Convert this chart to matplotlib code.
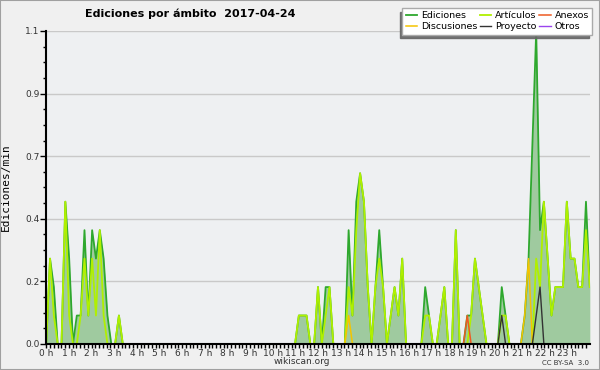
import matplotlib
matplotlib.use("Agg")
import matplotlib.pyplot as plt
import numpy as np
from matplotlib.ticker import FormatStrFormatter
from matplotlib.patches import Rectangle

# edits per 10 minutes, 2017-04-24, one row = 12 slots (2 hours)
ediciones = [
    0, 3, 2, 0, 0, 5, 3, 0, 1, 1, 4, 1,
    4, 3, 4, 3, 1, 0, 0, 1, 0, 0, 0, 0,
    0, 0, 0, 0, 0, 0, 0, 0, 0, 0, 0, 0,
    0, 0, 0, 0, 0, 0, 0, 0, 0, 0, 0, 0,
    0, 0, 0, 0, 0, 0, 0, 0, 0, 0, 0, 0,
    0, 0, 0, 0, 0, 0, 1, 1, 1, 0, 0, 2,
    0, 2, 2, 0, 0, 0, 0, 4, 1, 5, 6, 5,
    2, 0, 2, 4, 2, 0, 1, 2, 1, 3, 0, 0,
    0, 0, 0, 2, 1, 0, 0, 1, 2, 0, 0, 4,
    0, 0, 1, 1, 3, 2, 1, 0, 0, 0, 0, 2,
    1, 0, 0, 0, 0, 1, 3, 7, 11, 4, 5, 3,
    1, 2, 2, 2, 5, 3, 3, 2, 2, 5, 2,
]
articulos = [
    0, 3, 1, 0, 0, 5, 1, 0, 0, 1, 3, 1,
    3, 1, 4, 1, 0, 0, 0, 1, 0, 0, 0, 0,
    0, 0, 0, 0, 0, 0, 0, 0, 0, 0, 0, 0,
    0, 0, 0, 0, 0, 0, 0, 0, 0, 0, 0, 0,
    0, 0, 0, 0, 0, 0, 0, 0, 0, 0, 0, 0,
    0, 0, 0, 0, 0, 0, 1, 1, 1, 0, 0, 2,
    0, 1, 2, 0, 0, 0, 0, 2, 1, 4, 6, 5,
    2, 0, 2, 3, 2, 0, 1, 2, 1, 3, 0, 0,
    0, 0, 0, 1, 1, 0, 0, 1, 2, 0, 0, 4,
    0, 0, 0, 1, 3, 2, 1, 0, 0, 0, 0, 1,
    1, 0, 0, 0, 0, 0, 0, 0, 3, 2, 5, 3,
    1, 2, 2, 2, 5, 3, 3, 2, 2, 4, 2,
]
anexos = [
    0, 0, 0, 0, 0, 0, 0, 0, 0, 0, 0, 0,
    0, 0, 0, 0, 0, 0, 0, 0, 0, 0, 0, 0,
    0, 0, 0, 0, 0, 0, 0, 0, 0, 0, 0, 0,
    0, 0, 0, 0, 0, 0, 0, 0, 0, 0, 0, 0,
    0, 0, 0, 0, 0, 0, 0, 0, 0, 0, 0, 0,
    0, 0, 0, 0, 0, 0, 0, 0, 0, 0, 0, 0,
    0, 0, 0, 0, 0, 0, 0, 0, 0, 0, 0, 0,
    0, 0, 0, 0, 0, 0, 0, 0, 0, 0, 0, 0,
    0, 0, 0, 0, 0, 0, 0, 0, 0, 0, 0, 0,
    0, 0, 1, 0, 0, 0, 0, 0, 0, 0, 0, 0,
    0, 0, 0, 0, 0, 0, 0, 0, 0, 0, 0, 0,
    0, 0, 0, 0, 0, 0, 0, 0, 0, 0, 0,
]
discusiones = [
    0, 0, 0, 0, 0, 0, 0, 0, 0, 0, 0, 0,
    0, 0, 0, 0, 0, 0, 0, 0, 0, 0, 0, 0,
    0, 0, 0, 0, 0, 0, 0, 0, 0, 0, 0, 0,
    0, 0, 0, 0, 0, 0, 0, 0, 0, 0, 0, 0,
    0, 0, 0, 0, 0, 0, 0, 0, 0, 0, 0, 0,
    0, 0, 0, 0, 0, 0, 0, 0, 0, 0, 0, 0,
    0, 0, 0, 0, 0, 0, 0, 1, 0, 0, 0, 0,
    0, 0, 0, 0, 0, 0, 0, 0, 0, 0, 0, 0,
    0, 0, 0, 0, 0, 0, 0, 0, 0, 0, 0, 0,
    0, 0, 0, 0, 0, 0, 0, 0, 0, 0, 0, 0,
    0, 0, 0, 0, 0, 1, 3, 0, 0, 0, 0, 0,
    0, 0, 0, 0, 0, 0, 0, 0, 0, 0, 0,
]
proyecto = [
    0, 0, 0, 0, 0, 0, 0, 0, 0, 0, 0, 0,
    0, 0, 0, 0, 0, 0, 0, 0, 0, 0, 0, 0,
    0, 0, 0, 0, 0, 0, 0, 0, 0, 0, 0, 0,
    0, 0, 0, 0, 0, 0, 0, 0, 0, 0, 0, 0,
    0, 0, 0, 0, 0, 0, 0, 0, 0, 0, 0, 0,
    0, 0, 0, 0, 0, 0, 0, 0, 0, 0, 0, 0,
    0, 0, 0, 0, 0, 0, 0, 0, 0, 0, 0, 0,
    0, 0, 0, 0, 0, 0, 0, 0, 0, 0, 0, 0,
    0, 0, 0, 0, 0, 0, 0, 0, 0, 0, 0, 0,
    0, 0, 0, 0, 0, 0, 0, 0, 0, 0, 0, 1,
    0, 0, 0, 0, 0, 0, 0, 0, 1, 2, 0, 0,
    0, 0, 0, 0, 0, 0, 0, 0, 0, 0, 0,
]
otros = [
    0, 0, 0, 0, 0, 0, 0, 0, 0, 0, 0, 0,
    0, 0, 0, 0, 0, 0, 0, 0, 0, 0, 0, 0,
    0, 0, 0, 0, 0, 0, 0, 0, 0, 0, 0, 0,
    0, 0, 0, 0, 0, 0, 0, 0, 0, 0, 0, 0,
    0, 0, 0, 0, 0, 0, 0, 0, 0, 0, 0, 0,
    0, 0, 0, 0, 0, 0, 0, 0, 0, 0, 0, 0,
    0, 0, 0, 0, 0, 0, 0, 0, 0, 0, 0, 0,
    0, 0, 0, 0, 0, 0, 0, 0, 0, 0, 0, 0,
    0, 0, 0, 0, 0, 0, 0, 0, 0, 0, 0, 0,
    0, 0, 0, 0, 0, 0, 0, 0, 0, 0, 0, 0,
    0, 0, 0, 0, 0, 0, 0, 0, 0, 0, 0, 0,
    0, 0, 0, 0, 0, 0, 0, 0, 0, 0, 0,
]

hour_labels = ["%d h" % h for h in range(24)]
ytick_values = [0.0, 0.22, 0.44, 0.66, 0.88, 1.1]

x = np.linspace(0, 24, len(ediciones))
per_min = lambda s: np.array(s) / 10.0

fig = plt.figure(figsize=(6, 3.7), dpi=100, facecolor="#f0f0f0")
ax = fig.add_axes([0.077, 0.0703, 0.906, 0.846])
ax.set_facecolor("#eef0f2")

ax.fill_between(x, per_min(ediciones), color="#9fca9f", lw=0, zorder=1)
l_ed, = ax.plot(x, per_min(ediciones), color="#2ea82e", lw=1.3, zorder=2, label="Ediciones")
l_art, = ax.plot(x, per_min(articulos), color="#b0f000", lw=1.3, zorder=2.1, label="Artículos")
l_disc, = ax.plot(x, per_min(discusiones), color="#f5c400", lw=1.1, zorder=2.2, label="Discusiones")
l_anx, = ax.plot(x, per_min(anexos), color="#ee5a22", lw=1.1, zorder=2.3, label="Anexos")
l_proj, = ax.plot(x, per_min(proyecto), color="#333333", lw=1.0, zorder=2.4, label="Proyecto")
l_otr, = ax.plot(x, per_min(otros), color="#9a44ee", lw=1.0, zorder=1.5, label="Otros")

ax.set_xlim(0, 24)
ax.set_ylim(0, 1.1)
ax.set_xticks(range(24))
ax.set_xticklabels(hour_labels)
ax.set_xticks(np.arange(0, 24, 1 / 6), minor=True)
ax.set_yticks(ytick_values)
ax.set_yticks(np.arange(21) * 0.055, minor=True)
ax.yaxis.set_major_formatter(FormatStrFormatter("%.1f"))

ax.grid(axis="y", which="major", color="#c9c9c9", lw=1)
ax.set_axisbelow(True)
ax.tick_params(which="major", labelsize=6.5, width=1, colors="black")
ax.tick_params(which="minor", width=1)
ax.tick_params(axis="x", which="major", length=3, pad=0.5, labelcolor="#333333")
ax.tick_params(axis="x", which="minor", length=3)
ax.tick_params(axis="y", which="major", length=4, pad=1, labelcolor="#333333")
ax.tick_params(axis="y", which="minor", length=2.5)
for side in ["top", "right"]:
    ax.spines[side].set_visible(False)
for side in ["left", "bottom"]:
    ax.spines[side].set_linewidth(1.5)
    ax.spines[side].set_zorder(5)

ax.set_ylabel("Ediciones/min", fontsize=8, labelpad=10, family="DejaVu Sans Mono")

fig.text(0.142, 0.962, "Ediciones por ámbito  2017-04-24", fontsize=8,
         fontweight="bold", ha="left", va="center")
fig.text(0.503, 0.022, "wikiscan.org", fontsize=6.5, ha="center", va="center", color="#333333")
fig.text(0.982, 0.02, "CC BY-SA  3.0", fontsize=5, ha="right", va="center", color="#333333")

fig.legend([l_ed, l_disc, l_art, l_proj, l_anx, l_otr],
           ["Ediciones", "Discusiones", "Artículos", "Proyecto", "Anexos", "Otros"],
           ncol=3, loc="upper right", bbox_to_anchor=(0.987, 0.978), fontsize=6.8,
           frameon=True, fancybox=False, edgecolor="#aaaaaa", framealpha=1,
           shadow={"ox": -2, "oy": -2.5, "color": "#666666", "alpha": 0.9},
           borderpad=0.35, labelspacing=0.2, handlelength=1.2,
           handletextpad=0.4, columnspacing=0.3, borderaxespad=0)

fig.patches.append(Rectangle((0, 0), 1, 1, transform=fig.transFigure, fill=False,
                             edgecolor="#a0a0a0", lw=1.5))

fig.savefig("out.png", dpi=100, facecolor=fig.get_facecolor())
